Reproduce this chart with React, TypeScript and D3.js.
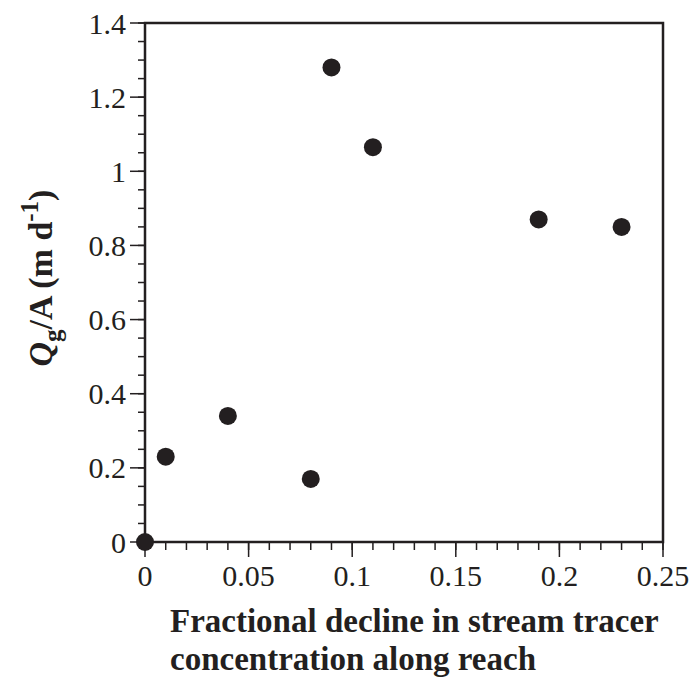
import React from "react";
import * as d3 from "d3";

const xValues = [0, 0.01, 0.04, 0.08, 0.09, 0.11, 0.19, 0.23];
const yValues = [0, 0.23, 0.34, 0.17, 1.28, 1.065, 0.87, 0.85];
const xTicks = [0, 0.05, 0.1, 0.15, 0.2, 0.25];
const xTickLabels = ["0", "0.05", "0.1", "0.15", "0.2", "0.25"];
const yTicks = [0, 0.2, 0.4, 0.6, 0.8, 1, 1.2, 1.4];
const yTickLabels = ["0", "0.2", "0.4", "0.6", "0.8", "1", "1.2", "1.4"];

const W = 696, H = 683;
const L = 145, R = 663, T = 23, B = 542;

export default function App() {
  const x = d3.scaleLinear().domain([0, 0.25]).range([L, R]);
  const y = d3.scaleLinear().domain([0, 1.4]).range([B, T]);
  const xMinor = d3.range(0, 0.2501, 0.01);
  const yMinor = d3.range(0, 1.4001, 0.05);
  const font = "'Liberation Serif', 'Times New Roman', serif";
  const ink = "#231f20";
  return (
    <svg width={W} height={H} style={{ position: "absolute", left: 0, top: 0, background: "#fff" }} fontFamily={font}>
      <rect x={0} y={0} width={W} height={H} fill="#fff" />
      {yMinor.map((v, i) => (
        <line key={"ym" + i} x1={L - 7} x2={L} y1={y(v)} y2={y(v)} stroke={ink} strokeWidth={1.5} />
      ))}
      {yTicks.map((v, i) => (
        <line key={"yt" + i} x1={L - 15} x2={L} y1={y(v)} y2={y(v)} stroke={ink} strokeWidth={1.5} />
      ))}
      {xMinor.map((v, i) => (
        <line key={"xm" + i} x1={x(v)} x2={x(v)} y1={B} y2={B + 8} stroke={ink} strokeWidth={1.5} />
      ))}
      {xTicks.map((v, i) => (
        <line key={"xt" + i} x1={x(v)} x2={x(v)} y1={B} y2={B + 15} stroke={ink} strokeWidth={1.5} />
      ))}
      <rect x={L} y={T} width={R - L} height={B - T} fill="none" stroke={ink} strokeWidth={2.5} />
      {yTicks.map((v, i) => (
        <text key={"yl" + i} x={L - 19} y={y(v)} dy="0.35em" textAnchor="end" fontSize={30} fill={ink}>
          {yTickLabels[i]}
        </text>
      ))}
      {xTicks.map((v, i) => (
        <text key={"xl" + i} x={x(v)} y={586} textAnchor="middle" fontSize={30} fill={ink}>
          {xTickLabels[i]}
        </text>
      ))}
      {xValues.map((v, i) => (
        <circle key={"p" + i} cx={x(v)} cy={y(yValues[i])} r={9} fill={ink} />
      ))}
      <text x={170} y={632} fontSize={33} fontWeight="bold" fill={ink}>Fractional decline in stream tracer</text>
      <text x={170} y={670} fontSize={33} fontWeight="bold" fill={ink}>concentration along reach</text>
      <text transform="translate(52,278) rotate(-90)" textAnchor="middle" fontSize={34} fontWeight="bold" fill={ink}>
        <tspan fontStyle="italic">Q</tspan>
        <tspan fontSize={25} dy={9}>g</tspan>
        <tspan dy={-9}>/A (m d</tspan>
        <tspan fontSize={25} dy={-14}>-1</tspan>
        <tspan dy={14}>)</tspan>
      </text>
    </svg>
  );
}
